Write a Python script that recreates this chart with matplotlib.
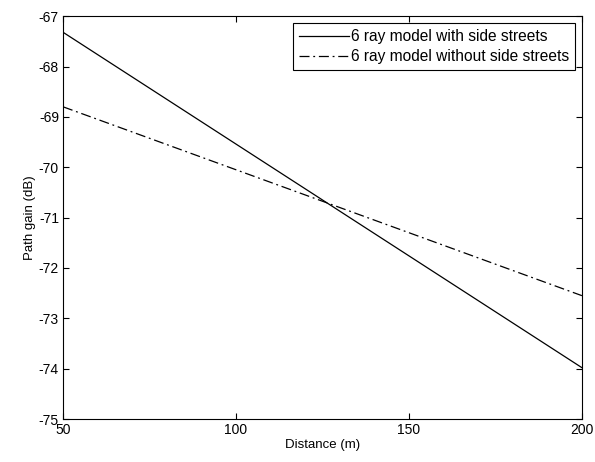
import matplotlib
matplotlib.use("Agg")
import matplotlib.pyplot as plt

distance = [50, 100, 150, 200]
with_side = [-67.32, -69.54, -71.76, -73.98]
without_side = [-68.80, -70.05, -71.30, -72.55]
xticks = [50, 100, 150, 200]
yticks = [-75, -74, -73, -72, -71, -70, -69, -68, -67]

plt.rcParams['font.family'] = ['Liberation Sans', 'DejaVu Sans']
plt.rcParams['axes.unicode_minus'] = False
fig = plt.figure(figsize=(5.95, 4.62), dpi=100)
ax = fig.add_axes([0.106, 0.093, 0.872, 0.872])
ax.plot(distance, with_side, color='black', lw=0.9, linestyle='-', label='6 ray model with side streets')
ax.plot(distance, without_side, color='black', lw=0.9, linestyle=(0, (8, 3, 1.5, 3)), label='6 ray model without side streets')
ax.set_xlim(50, 200)
ax.set_ylim(-75, -67)
ax.set_xticks(xticks)
ax.set_yticks(yticks)
ax.tick_params(direction='in', top=True, right=True, labelsize=10, length=4, width=0.8, pad=3)
for s in ax.spines.values():
    s.set_linewidth(0.8)
ax.set_xlabel('Distance (m)', fontsize=9.5, labelpad=1)
ax.set_ylabel('Path gain (dB)', fontsize=9.5, labelpad=2)
leg = ax.legend(loc='upper right', fontsize=11.2, fancybox=False, framealpha=1,
                edgecolor='black', borderpad=0.4, handlelength=3.2, handletextpad=0.1,
                labelspacing=0.3, borderaxespad=0.45)
leg.get_frame().set_linewidth(0.8)
fig.savefig('out.png', dpi=100)
